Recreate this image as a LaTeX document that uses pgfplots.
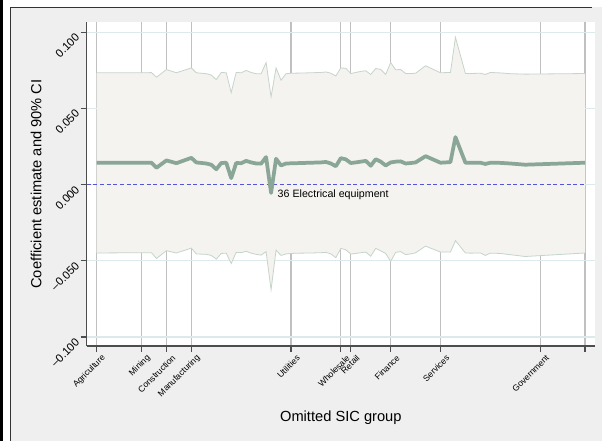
\documentclass[border=0pt]{standalone}
\usepackage{fontspec}
\setmainfont{Liberation Sans}
\usepackage{pgfplots}
\pgfplotsset{compat=1.18}
\usepackage{pgfplotstable}

\definecolor{bgc}{HTML}{EFEFEF}
\definecolor{framec}{HTML}{333333}
\definecolor{axisgray}{HTML}{4D4D4D}
\definecolor{vgrid}{HTML}{C0C0C0}
\definecolor{hgrid}{HTML}{DDEAEC}
\definecolor{cifill}{HTML}{F4F3EF}
\definecolor{ciline}{HTML}{C6D4CB}
\definecolor{mainc}{HTML}{89A696}
\definecolor{zeroc}{HTML}{5555D5}

\pgfplotstableread{
x  est     up      lo
1  0.0143  0.0733  -0.0449
10 0.0143  0.0733  -0.0447
12 0.0143  0.0734  -0.0447
13 0.0110  0.0704  -0.0485
15 0.0158  0.0754  -0.0434
17 0.0140  0.0733  -0.0449
20 0.0175  0.0765  -0.0417
21 0.0145  0.0733  -0.0455
23 0.0138  0.0727  -0.0458
24 0.0130  0.0718  -0.0465
25 0.0100  0.0688  -0.0489
26 0.0141  0.0735  -0.0452
27 0.0143  0.0733  -0.0450
28 0.0042  0.0603  -0.0518
29 0.0141  0.0735  -0.0445
30 0.0140  0.0733  -0.0447
31 0.0155  0.0748  -0.0438
32 0.0145  0.0735  -0.0450
33 0.0138  0.0727  -0.0458
34 0.0137  0.0727  -0.0463
35 0.0180  0.0800  -0.0440
36 -0.0055 0.0575  -0.0690
37 0.0169  0.0765  -0.0430
38 0.0125  0.0684  -0.0465
39 0.0138  0.0727  -0.0455
40 0.0139  0.0730  -0.0452
42 0.0141  0.0731  -0.0450
44 0.0143  0.0733  -0.0449
45 0.0144  0.0734  -0.0448
46 0.0145  0.0735  -0.0447
47 0.0148  0.0738  -0.0445
48 0.0138  0.0730  -0.0455
49 0.0120  0.0712  -0.0480
50 0.0173  0.0765  -0.0419
51 0.0165  0.0762  -0.0428
52 0.0141  0.0728  -0.0456
53 0.0145  0.0735  -0.0452
54 0.0150  0.0742  -0.0447
55 0.0155  0.0746  -0.0443
56 0.0123  0.0722  -0.0470
57 0.0166  0.0761  -0.0419
58 0.0150  0.0755  -0.0435
59 0.0125  0.0722  -0.0452
60 0.0145  0.0800  -0.0504
61 0.0150  0.0752  -0.0445
62 0.0152  0.0755  -0.0440
63 0.0138  0.0728  -0.0460
64 0.0141  0.0728  -0.0455
65 0.0145  0.0730  -0.0448
67 0.0186  0.0779  -0.0404
70 0.0143  0.0733  -0.0443
72 0.0147  0.0735  -0.0443
73 0.0311  0.0965  -0.0368
75 0.0143  0.0728  -0.0449
76 0.0143  0.0728  -0.0450
78 0.0143  0.0730  -0.0449
79 0.0135  0.0722  -0.0465
80 0.0143  0.0735  -0.0450
82 0.0142  0.0732  -0.0452
84 0.0138  0.0727  -0.0460
87 0.0130  0.0724  -0.0472
99 0.0143  0.0728  -0.0449
}\data

% CI band outline: upper bound left to right, then lower bound right to left
\pgfplotstableread{
x  y
1  0.0733
10 0.0733
12 0.0734
13 0.0704
15 0.0754
17 0.0733
20 0.0765
21 0.0733
23 0.0727
24 0.0718
25 0.0688
26 0.0735
27 0.0733
28 0.0603
29 0.0735
30 0.0733
31 0.0748
32 0.0735
33 0.0727
34 0.0727
35 0.0800
36 0.0575
37 0.0765
38 0.0684
39 0.0727
40 0.0730
42 0.0731
44 0.0733
45 0.0734
46 0.0735
47 0.0738
48 0.0730
49 0.0712
50 0.0765
51 0.0762
52 0.0728
53 0.0735
54 0.0742
55 0.0746
56 0.0722
57 0.0761
58 0.0755
59 0.0722
60 0.0800
61 0.0752
62 0.0755
63 0.0728
64 0.0728
65 0.0730
67 0.0779
70 0.0733
72 0.0735
73 0.0965
75 0.0728
76 0.0728
78 0.0730
79 0.0722
80 0.0735
82 0.0732
84 0.0727
87 0.0724
99 0.0728
99 -0.0449
87 -0.0472
84 -0.0460
82 -0.0452
80 -0.0450
79 -0.0465
78 -0.0449
76 -0.0450
75 -0.0449
73 -0.0368
72 -0.0443
70 -0.0443
67 -0.0404
65 -0.0448
64 -0.0455
63 -0.0460
62 -0.0440
61 -0.0445
60 -0.0504
59 -0.0452
58 -0.0435
57 -0.0419
56 -0.0470
55 -0.0443
54 -0.0447
53 -0.0452
52 -0.0456
51 -0.0428
50 -0.0419
49 -0.0480
48 -0.0455
47 -0.0445
46 -0.0447
45 -0.0448
44 -0.0449
42 -0.0450
40 -0.0452
39 -0.0455
38 -0.0465
37 -0.0430
36 -0.0690
35 -0.0440
34 -0.0463
33 -0.0458
32 -0.0450
31 -0.0438
30 -0.0447
29 -0.0445
28 -0.0518
27 -0.0450
26 -0.0452
25 -0.0489
24 -0.0465
23 -0.0458
21 -0.0455
20 -0.0417
17 -0.0449
15 -0.0434
13 -0.0485
12 -0.0447
10 -0.0447
1  -0.0449
}\band

\begin{document}
\begin{tikzpicture}
\path[use as bounding box] (0,0) rectangle (451.5pt,330.75pt);
\begin{scope}[x=0.75pt,y=0.75pt]
\fill[white] (0,0) rectangle (602,441);
\fill[bgc] (10.5,0) rectangle (602,433.5);
\fill[black] (0,0) rectangle (2.5,441);
\draw[framec, line width=1pt] (10.5,0) -- (10.5,433.5) -- (592,433.5);
\end{scope}
\begin{axis}[
  at={(65.025pt,71.25pt)}, anchor=south west,
  scale only axis, width=381.2pt, height=243pt,
  xmin=-1, xmax=101, ymin=-0.1059, ymax=0.1066,
  axis x line*=bottom, axis y line*=left,
  axis line style={-, draw=axisgray, line width=0.9pt},
  axis background/.style={fill=white},
  xtick={1,10,15,20,40,50,52,60,70,90,99},
  xticklabels={Agriculture,Mining,Construction,Manufacturing,Utilities,Wholesale,Retail,Finance,Services,Government,{}},
  ytick={-0.1,-0.05,0,0.05,0.1},
  yticklabels={–0.100,–0.050,0.000,0.050,0.100},
  tick align=outside, major tick length=4.5pt,
  tick style={draw=axisgray, line width=0.8pt},
  xmajorgrids, ymajorgrids,
  x grid style={draw=vgrid, line width=0.8pt},
  y grid style={draw=hgrid, line width=0.8pt},
  x tick label style={font=\fontsize{6.5}{7}\selectfont, xshift=8pt, yshift=-1pt, rotate=45, anchor=east},
  y tick label style={font=\fontsize{8.5}{9}\selectfont, rotate=45, anchor=east},
  xlabel={Omitted SIC group},
  ylabel={Coefficient estimate and 90\% CI},
  every axis x label/.style={at={(axis description cs:0.5,-0.222)}, anchor=center, font=\fontsize{11}{13}\selectfont},
  every axis y label/.style={at={(axis description cs:-0.0997,0.5)}, rotate=90, anchor=center, font=\fontsize{11}{13}\selectfont},
  clip=false,
]
\addplot[fill=cifill, draw=none] table[x=x,y=y]{\band} -- cycle;
\addplot[draw=ciline, line width=0.6pt] table[x=x,y=up]{\data};
\addplot[draw=ciline, line width=0.6pt] table[x=x,y=lo]{\data};
\addplot[draw=zeroc, dashed, dash pattern=on 3pt off 2pt, line width=0.6pt] coordinates {(-1,0) (99,0)};
\addplot[draw=mainc, line width=2.8pt, line join=round] table[x=x,y=est]{\data};
\node[anchor=base west, xshift=4.8pt, inner sep=0pt, font=\fontsize{8}{9}\selectfont] at (axis cs:36,-0.0086) {36 Electrical equipment};
\end{axis}
\end{tikzpicture}
\end{document}
